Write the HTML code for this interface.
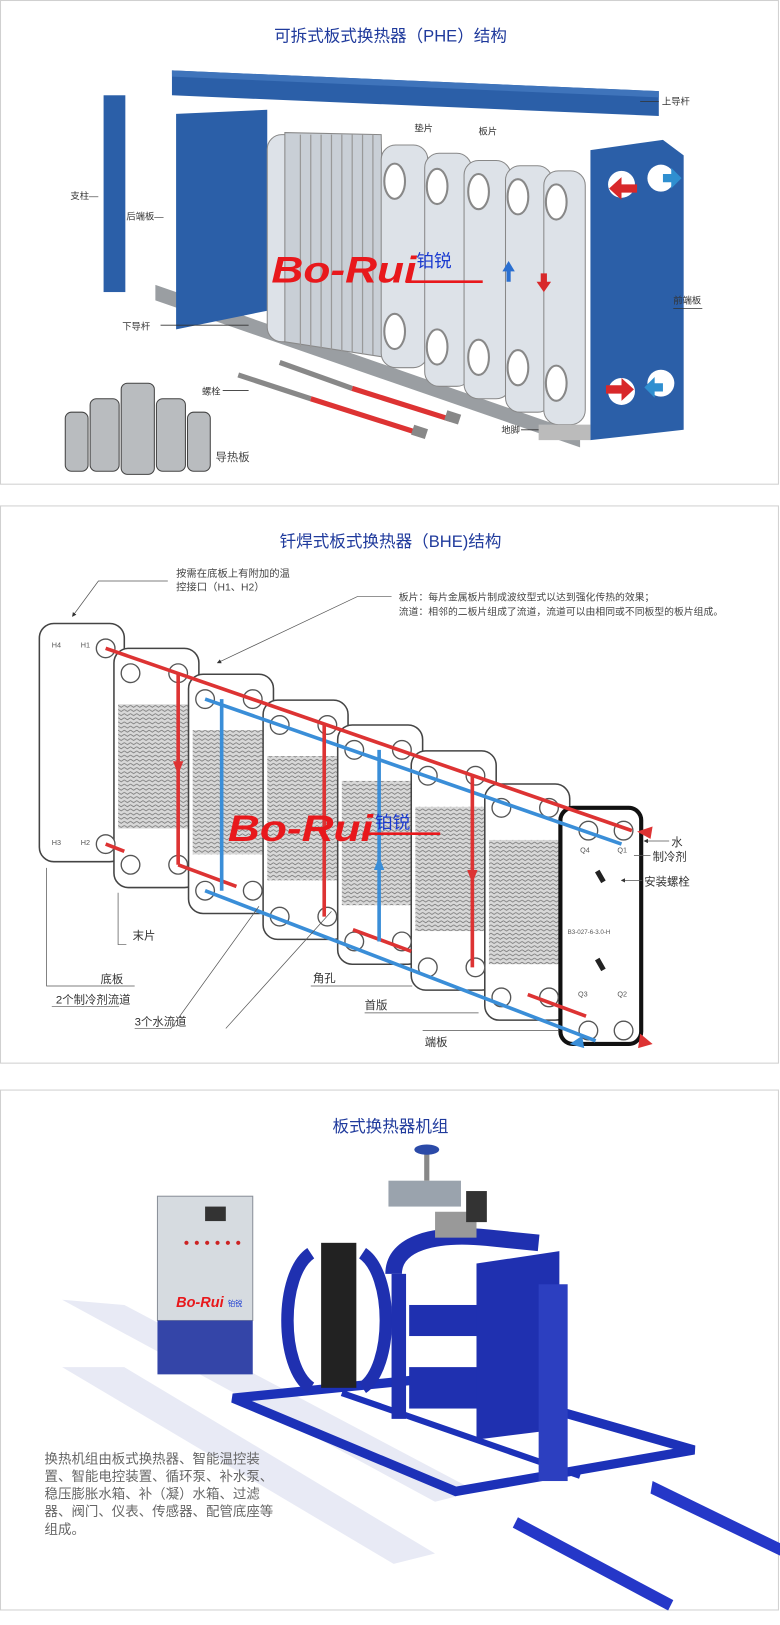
<!DOCTYPE html>
<html><head><meta charset="utf-8"><style>
html,body{margin:0;padding:0;background:#fff;width:780px;height:1625px;overflow:hidden}
svg{display:block}
text{font-family:"Liberation Sans","Noto Sans CJK SC",sans-serif}
</style></head><body>
<svg width="780" height="1625" viewBox="0 0 753 1569" preserveAspectRatio="none" xmlns="http://www.w3.org/2000/svg">
<defs>
<pattern id="hatch" width="6" height="4" patternUnits="userSpaceOnUse">
<rect width="6" height="4" fill="#d8d8d8"/><path d="M0 1 L3 3 L6 1" stroke="#777" stroke-width="0.8" fill="none"/>
</pattern>
<marker id="ar" markerWidth="6" markerHeight="6" refX="5" refY="3" orient="auto"><path d="M0 0 L6 3 L0 6z" fill="#333"/></marker>
</defs>

<!-- PANEL 1 -->
<rect x="0.5" y="0.5" width="751" height="467" fill="#fff" stroke="#d0d0d0"/>
<text x="377" y="40" font-size="16" fill="#1f3a9c" text-anchor="middle">可拆式板式换热器（PHE）结构</text>
<polygon points="166,68 636,88 636,112 166,92" fill="#2b5fa8"/>
<polygon points="166,68 636,88 636,94 166,74" fill="#3f74bb"/>
<line x1="618" y1="98" x2="636" y2="98" stroke="#333" stroke-width="0.8"/>
<text x="639" y="101" font-size="9" fill="#333">上导杆</text>
<rect x="100" y="92" width="21" height="190" fill="#2b5fa8"/>
<text x="68" y="192" font-size="9" fill="#333">支柱—</text>
<polygon points="150,275 560,418 560,432 150,290" fill="#9a9ea2"/>
<polygon points="170,110 258,106 258,300 170,318" fill="#2b5fa8"/>
<text x="122" y="212" font-size="9" fill="#333">后端板—</text>
<text x="118" y="318" font-size="9" fill="#333">下导杆</text>
<line x1="155" y1="314" x2="240" y2="314" stroke="#333" stroke-width="0.8"/>
<rect x="258" y="130" width="30" height="200" rx="14" fill="#dde2e8" stroke="#888"/>
<polygon points="275,128 368,130 372,345 275,330" fill="#c9cfd6" stroke="#888"/>
<g stroke="#999" stroke-width="1.2">
<line x1="290" y1="130" x2="290" y2="335"/><line x1="300" y1="130" x2="300" y2="336"/><line x1="310" y1="130" x2="310" y2="337"/><line x1="320" y1="130" x2="320" y2="338"/><line x1="330" y1="130" x2="330" y2="339"/><line x1="340" y1="130" x2="340" y2="340"/><line x1="350" y1="130" x2="350" y2="342"/><line x1="360" y1="130" x2="360" y2="343"/>
</g>
<rect x="368" y="140" width="45" height="215" rx="14" fill="#dde2e8" stroke="#888"/>
<rect x="410" y="148" width="45" height="225" rx="14" fill="#dde2e8" stroke="#888"/>
<rect x="448" y="155" width="45" height="230" rx="14" fill="#dde2e8" stroke="#888"/>
<rect x="488" y="160" width="45" height="238" rx="14" fill="#dde2e8" stroke="#888"/>
<rect x="525" y="165" width="40" height="245" rx="14" fill="#dde2e8" stroke="#888"/>
<g fill="#fff" stroke="#888" stroke-width="2">
<ellipse cx="381" cy="175" rx="10" ry="17"/><ellipse cx="381" cy="320" rx="10" ry="17"/>
<ellipse cx="422" cy="180" rx="10" ry="17"/><ellipse cx="422" cy="335" rx="10" ry="17"/>
<ellipse cx="462" cy="185" rx="10" ry="17"/><ellipse cx="462" cy="345" rx="10" ry="17"/>
<ellipse cx="500" cy="190" rx="10" ry="17"/><ellipse cx="500" cy="355" rx="10" ry="17"/>
<ellipse cx="537" cy="195" rx="10" ry="17"/><ellipse cx="537" cy="370" rx="10" ry="17"/>
</g>
<text x="400" y="127" font-size="9" fill="#333">垫片</text>
<text x="462" y="130" font-size="9" fill="#333">板片</text>
<polygon points="570,145 640,135 660,150 660,415 570,425" fill="#2b5fa8"/>
<circle cx="600" cy="178" r="13" fill="#fff"/><circle cx="638" cy="172" r="13" fill="#fff"/>
<circle cx="600" cy="378" r="13" fill="#fff"/><circle cx="638" cy="370" r="13" fill="#fff"/>
<polygon points="615,178 600,178 600,171 588,182 600,193 600,186 615,186" fill="#d8282a"/>
<polygon points="585,372 600,372 600,365 612,376 600,387 600,380 585,380" fill="#d8282a"/>
<polygon points="640,168 648,168 648,162 658,172 648,182 648,176 640,176" fill="#2f8fd0"/>
<polygon points="640,370 632,370 632,364 622,374 632,384 632,378 640,378" fill="#2f8fd0"/>
<text x="650" y="293" font-size="9" fill="#333">前端板</text>
<line x1="650" y1="298" x2="678" y2="298" stroke="#333" stroke-width="0.8"/>
<text x="262" y="273" font-size="36" font-weight="bold" font-style="italic" font-family="Liberation Serif,serif" fill="#e8181c" textLength="140" lengthAdjust="spacingAndGlyphs">Bo-Rui</text>
<line x1="392" y1="272" x2="466" y2="272" stroke="#e8181c" stroke-width="2.5"/>
<text x="402" y="258" font-size="17" fill="#1a3ad0">铂锐</text>
<polygon points="485,262 491,252 497,262 493,262 493,272 489,272 489,262" fill="#2a6fd0"/>
<polygon points="522,264 528,264 528,272 532,272 525,282 518,272 522,272" fill="#d8282a"/>
<line x1="230" y1="362" x2="300" y2="385" stroke="#888" stroke-width="5"/>
<line x1="300" y1="385" x2="410" y2="420" stroke="#d33" stroke-width="5"/>
<rect x="398" y="412" width="14" height="10" fill="#888" transform="rotate(18 405 417)"/>
<line x1="270" y1="350" x2="340" y2="375" stroke="#888" stroke-width="5"/>
<line x1="340" y1="375" x2="435" y2="405" stroke="#d33" stroke-width="5"/>
<rect x="430" y="398" width="14" height="10" fill="#888" transform="rotate(18 437 403)"/>
<text x="195" y="381" font-size="9" fill="#333">螺栓</text>
<line x1="215" y1="377" x2="240" y2="377" stroke="#333" stroke-width="0.8"/>
<text x="484" y="418" font-size="9" fill="#333">地脚</text>
<line x1="503" y1="415" x2="525" y2="415" stroke="#333" stroke-width="0.8"/>
<polygon points="520,410 570,410 570,425 520,425" fill="#bbb"/>
<g fill="#b9bcbf" stroke="#444" stroke-width="1">
<rect x="63" y="398" width="22" height="57" rx="6"/>
<rect x="87" y="385" width="28" height="70" rx="6"/>
<rect x="117" y="370" width="32" height="88" rx="6"/>
<rect x="151" y="385" width="28" height="70" rx="6"/>
<rect x="181" y="398" width="22" height="57" rx="6"/>
</g>
<text x="208" y="445" font-size="11" fill="#444">导热板</text>

<!-- PANEL 2 -->
<rect x="0.5" y="488.5" width="751" height="538" fill="#fff" stroke="#d0d0d0"/>
<text x="377" y="528" font-size="16" fill="#1f3a9c" text-anchor="middle">钎焊式板式换热器（BHE)结构</text>
<text x="170" y="557" font-size="10" fill="#444">按需在底板上有附加的温</text>
<text x="170" y="570" font-size="10" fill="#444">控接口（H1、H2）</text>
<polyline points="162,561 95,561 70,595" fill="none" stroke="#555" stroke-width="0.7" marker-end="url(#ar)"/>
<text x="385" y="580" font-size="9.5" fill="#444">板片：每片金属板片制成波纹型式以达到强化传热的效果；</text>
<text x="385" y="594" font-size="9.5" fill="#444">流道：相邻的二板片组成了流道，流道可以由相同或不同板型的板片组成。</text>
<polyline points="378,576 345,576 210,640" fill="none" stroke="#555" stroke-width="0.7" marker-end="url(#ar)"/>
<g stroke="#444" stroke-width="1.5">
<rect x="38" y="602" width="82" height="230" rx="14" fill="#fff"/>
<rect x="110" y="626" width="82" height="231" rx="14" fill="#fff"/><rect x="114" y="680" width="74" height="120" fill="url(#hatch)" stroke="none"/>
<rect x="182" y="651" width="82" height="231" rx="14" fill="#fff"/><rect x="186" y="705" width="74" height="120" fill="url(#hatch)" stroke="none"/>
<rect x="254" y="676" width="82" height="231" rx="14" fill="#fff"/><rect x="258" y="730" width="74" height="120" fill="url(#hatch)" stroke="none"/>
<rect x="326" y="700" width="82" height="231" rx="14" fill="#fff"/><rect x="330" y="754" width="74" height="120" fill="url(#hatch)" stroke="none"/>
<rect x="397" y="725" width="82" height="231" rx="14" fill="#fff"/><rect x="401" y="779" width="74" height="120" fill="url(#hatch)" stroke="none"/>
<rect x="468" y="757" width="82" height="228" rx="14" fill="#fff"/><rect x="472" y="811" width="74" height="120" fill="url(#hatch)" stroke="none"/>
<rect x="541" y="780" width="78" height="228" rx="12" fill="#fff" stroke="#111" stroke-width="4"/>
</g>
<g fill="#fff" stroke="#555" stroke-width="1.3">
<circle cx="102" cy="626" r="9"/><circle cx="102" cy="815" r="9"/>
<circle cx="126" cy="650" r="9"/><circle cx="172" cy="650" r="9"/><circle cx="126" cy="835" r="9"/><circle cx="172" cy="835" r="9"/>
<circle cx="198" cy="675" r="9"/><circle cx="244" cy="675" r="9"/><circle cx="198" cy="860" r="9"/><circle cx="244" cy="860" r="9"/>
<circle cx="270" cy="700" r="9"/><circle cx="316" cy="700" r="9"/><circle cx="270" cy="885" r="9"/><circle cx="316" cy="885" r="9"/>
<circle cx="342" cy="724" r="9"/><circle cx="388" cy="724" r="9"/><circle cx="342" cy="909" r="9"/><circle cx="388" cy="909" r="9"/>
<circle cx="413" cy="749" r="9"/><circle cx="459" cy="749" r="9"/><circle cx="413" cy="934" r="9"/><circle cx="459" cy="934" r="9"/>
<circle cx="484" cy="780" r="9"/><circle cx="530" cy="780" r="9"/><circle cx="484" cy="963" r="9"/><circle cx="530" cy="963" r="9"/>
<circle cx="568" cy="802" r="9"/><circle cx="602" cy="802" r="9"/><circle cx="568" cy="995" r="9"/><circle cx="602" cy="995" r="9"/>
</g>
<g font-size="7" fill="#555"><text x="50" y="625">H4</text><text x="78" y="625">H1</text><text x="50" y="816">H3</text><text x="78" y="816">H2</text>
<text x="560" y="823">Q4</text><text x="596" y="823">Q1</text><text x="558" y="962">Q3</text><text x="596" y="962">Q2</text>
<text x="548" y="902" font-size="6">B3-027-6-3.0-H</text></g>
<g stroke-width="3.5" fill="none">
<line x1="102" y1="626" x2="610" y2="802" stroke="#d33"/>
<line x1="102" y1="815" x2="120" y2="822" stroke="#d33"/>
<line x1="198" y1="675" x2="600" y2="815" stroke="#3a8ed8"/>
<line x1="198" y1="860" x2="575" y2="1005" stroke="#3a8ed8"/>
<line x1="172" y1="835" x2="630" y2="1005" stroke="#d33" stroke-dasharray="60 120"/>
<line x1="172" y1="650" x2="172" y2="835" stroke="#d33"/>
<line x1="214" y1="675" x2="214" y2="860" stroke="#3a8ed8"/>
<line x1="313" y1="700" x2="313" y2="885" stroke="#d33"/>
<line x1="366" y1="909" x2="366" y2="724" stroke="#3a8ed8"/>
<line x1="456" y1="749" x2="456" y2="934" stroke="#d33"/>
</g>
<polygon points="167,735 177,735 172,748" fill="#d33"/>
<polygon points="451,840 461,840 456,853" fill="#d33"/>
<polygon points="361,840 371,840 366,827" fill="#3a8ed8"/>
<polygon points="630,798 615,803 628,810" fill="#d33"/>
<polygon points="630,1008 618,998 616,1012" fill="#d33"/>
<polygon points="550,1008 562,1000 564,1012" fill="#3a8ed8"/>
<rect x="577" y="840" width="5" height="12" fill="#222" transform="rotate(-30 580 846)"/>
<rect x="577" y="925" width="5" height="12" fill="#222" transform="rotate(-30 580 931)"/>
<text x="220" y="812" font-size="36" font-weight="bold" font-style="italic" font-family="Liberation Serif,serif" fill="#e8181c" textLength="140" lengthAdjust="spacingAndGlyphs">Bo-Rui</text>
<line x1="350" y1="805" x2="425" y2="805" stroke="#e8181c" stroke-width="2.5"/>
<text x="362" y="800" font-size="17" fill="#1a3ad0">铂锐</text>
<g font-size="11" fill="#333">
<text x="648" y="817">水</text><text x="630" y="831">制冷剂</text><text x="622" y="855">安装螺栓</text>
<text x="128" y="907">末片</text><text x="97" y="949">底板</text><text x="54" y="969">2个制冷剂流道</text><text x="130" y="990">3个水流道</text>
<text x="302" y="948">角孔</text><text x="352" y="974">首版</text><text x="410" y="1010">端板</text>
</g>
<g stroke="#555" stroke-width="0.7" fill="none">
<line x1="646" y1="812" x2="622" y2="812" marker-end="url(#ar)"/><line x1="628" y1="826" x2="612" y2="826"/>
<line x1="620" y1="850" x2="600" y2="850" marker-end="url(#ar)"/>
<polyline points="122,912 114,912 114,862"/><polyline points="130,952 45,952 45,838"/>
<line x1="50" y1="972" x2="115" y2="972"/><polyline points="130,993 165,993 250,875"/>
<polyline points="218,993 320,880"/><line x1="300" y1="952" x2="398" y2="952"/><line x1="352" y1="978" x2="462" y2="978"/><line x1="408" y1="995" x2="540" y2="995"/>
</g>

<!-- PANEL 3 -->
<rect x="0.5" y="1052.5" width="751" height="502" fill="#fff" stroke="#d0d0d0"/>
<text x="377" y="1093" font-size="16" fill="#1f3a9c" text-anchor="middle">板式换热器机组</text>
<polygon points="60,1255 120,1260 460,1440 420,1450" fill="#e8eaf5"/>
<polygon points="60,1320 120,1320 420,1500 380,1510" fill="#e8eaf5"/>
<polygon points="630,1430 753,1490 753,1502 628,1442" fill="#2537c8"/>
<polygon points="500,1465 650,1545 645,1555 495,1475" fill="#2537c8"/>
<rect x="152" y="1155" width="92" height="120" fill="#d6dbe0" stroke="#8a9099"/>
<rect x="152" y="1275" width="92" height="52" fill="#3445a8"/>
<rect x="198" y="1165" width="20" height="14" fill="#333"/>
<g fill="#c22"><circle cx="180" cy="1200" r="2"/><circle cx="190" cy="1200" r="2"/><circle cx="200" cy="1200" r="2"/><circle cx="210" cy="1200" r="2"/><circle cx="220" cy="1200" r="2"/><circle cx="230" cy="1200" r="2"/></g>
<text x="170" y="1262" font-size="14" font-weight="bold" font-style="italic" font-family="Liberation Serif,serif" fill="#e8181c">Bo-Rui</text>
<text x="220" y="1261" font-size="7" fill="#1a3ad0">铂锐</text>
<polygon points="225,1350 425,1330 670,1400 440,1440" fill="none" stroke="#1c31b8" stroke-width="9"/>
<line x1="330" y1="1345" x2="560" y2="1425" stroke="#1c31b8" stroke-width="6"/>
<path d="M300,1210 C270,1230 270,1320 300,1340" stroke="#1f30b0" stroke-width="12" fill="none"/>
<path d="M350,1210 C380,1230 380,1320 350,1340" stroke="#1f30b0" stroke-width="12" fill="none"/>
<rect x="310" y="1200" width="34" height="140" fill="#222"/>
<path d="M380,1230 C380,1200 420,1190 470,1195 L520,1200" stroke="#1f30b0" stroke-width="16" fill="none"/>
<line x1="385" y1="1230" x2="385" y2="1370" stroke="#1f30b0" stroke-width="14"/>
<rect x="395" y="1260" width="70" height="30" fill="#1f30b0"/>
<rect x="395" y="1320" width="70" height="40" fill="#1f30b0"/>
<polygon points="460,1220 540,1208 540,1380 460,1390" fill="#1f30b0"/>
<rect x="520" y="1240" width="28" height="190" fill="#2c3fc0"/>
<rect x="420" y="1170" width="40" height="25" fill="#999"/>
<rect x="375" y="1140" width="70" height="25" fill="#9aa3ad"/>
<line x1="412" y1="1110" x2="412" y2="1140" stroke="#888" stroke-width="5"/>
<ellipse cx="412" cy="1110" rx="12" ry="5" fill="#2b4aa8"/>
<rect x="450" y="1150" width="20" height="30" fill="#333"/>
<g font-size="13" fill="#666">
<text x="43" y="1413">换热机组由板式换热器、智能温控装</text>
<text x="43" y="1430">置、智能电控装置、循环泵、补水泵、</text>
<text x="43" y="1447">稳压膨胀水箱、补（凝）水箱、过滤</text>
<text x="43" y="1464">器、阀门、仪表、传感器、配管底座等</text>
<text x="43" y="1481">组成。</text>
</g>
</svg>
</body></html>
